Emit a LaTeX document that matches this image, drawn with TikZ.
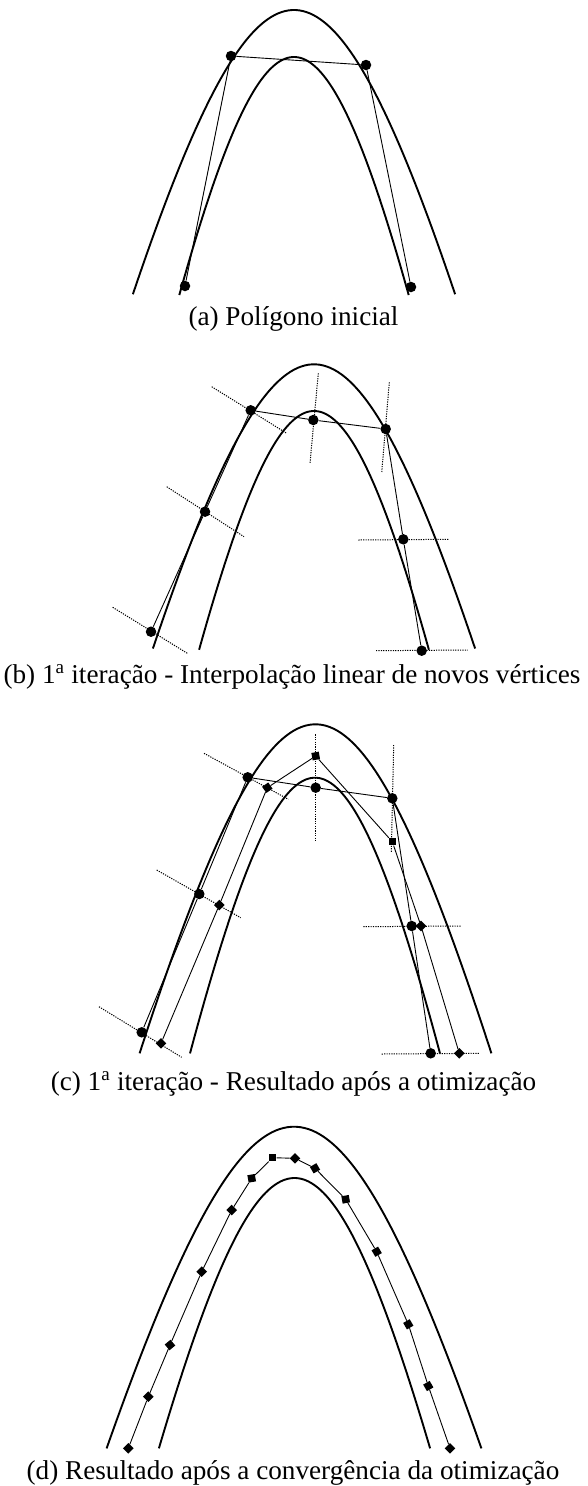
\documentclass[tikz,border=0pt]{standalone}
\usepackage{fontspec}
\setmainfont{Liberation Serif}
% arco hiperbolico: x0, y0 (vertice), a, c, meia largura
\newcommand{\arco}[5]{%
  \draw[curva] plot[domain=-#5:#5, samples=90, smooth]
    ({#1+\x}, {#2+#4*(sqrt(1+(\x/#3)*(\x/#3))-1)});}
\begin{document}
\begin{tikzpicture}[x=1pt, y=-1pt,
  vert/.style={circle, fill=black, inner sep=0pt, minimum size=10.5pt},
  quad/.style={rectangle, fill=black, inner sep=0pt, minimum size=7.5pt},
  curva/.style={line width=1.9pt},
  aresta/.style={line width=0.9pt},
  normal/.style={line width=1pt, dash pattern=on 1.2pt off 1.2pt},
  legenda/.style={anchor=base, inner sep=0pt, font=\fontsize{27.2}{30}\selectfont}]
  \useasboundingbox (0,0) rectangle (587,1486);

  % (a) Poligono inicial
  \arco{294}{10}{150}{608}{161.1}
  \arco{294}{57}{120}{621}{114.7}
  \node[vert] (a1) at (185,286) {};
  \node[vert] (a2) at (231,56) {};
  \node[vert] (a3) at (366,65) {};
  \node[vert] (a4) at (411,287) {};
  \draw[aresta] (a1) -- (a2) -- (a3) -- (a4);
  \node[legenda] (la) at (293.5,325) {(a) Polígono inicial};

  % (b) Interpolacao linear
  \arco{314}{364.3}{150}{608}{161.1}
  \arco{314}{411}{120}{621}{114.9}
  \draw[normal] (211.7,386.7) -- (286.7,433.3);
  \draw[normal] (318.3,373.3) -- (310,463.3);
  \draw[normal] (389.3,382.3) -- (381.7,472.7);
  \draw[normal] (166.7,486.7) -- (244,536.7);
  \draw[normal] (358.3,540) -- (449.3,539.3);
  \draw[normal] (112.7,607.3) -- (187.3,653.3);
  \draw[normal] (376,650.7) -- (467.7,650);
  \node[vert] (b1) at (151,631.7) {};
  \node[vert] (b2) at (205,511.7) {};
  \node[vert] (b3) at (250.7,410.3) {};
  \node[vert] (b4) at (313.3,420) {};
  \node[vert] (b5) at (385.7,429) {};
  \node[vert] (b6) at (403.3,539.3) {};
  \node[vert] (b7) at (421.7,650.7) {};
  \draw[aresta] (b1) -- (b2) -- (b3) -- (b4) -- (b5) -- (b6) -- (b7);
  \node[legenda] (lb) at (292,683) {(b) 1\textsuperscript{a} iteração - Interpolação linear de novos vértices};

  % (c) Resultado apos a otimizacao
  \arco{315.5}{724.3}{150}{608}{175.9}
  \arco{315}{777.7}{120}{621}{125}
  \draw[normal] (204,753.3) -- (288.3,799.3);
  \draw[normal] (315.7,734.3) -- (315.7,841.7);
  \draw[normal] (393.7,745) -- (391.3,852.7);
  \draw[normal] (156.7,870) -- (240.7,917.7);
  \draw[normal] (363.3,926.7) -- (461,926);
  \draw[normal] (99,1006.7) -- (181.7,1057.3);
  \draw[normal] (381.7,1054) -- (480,1053.3);
  \node[vert] (c1) at (141.7,1032.3) {};
  \node[vert] (c2) at (199.3,894) {};
  \node[vert] (c3) at (247.7,777.3) {};
  \node[vert] (c4) at (315.7,787.7) {};
  \node[vert] (c5) at (392.3,798.3) {};
  \node[vert] (c6) at (411.7,926) {};
  \node[vert] (c7) at (430.7,1053.3) {};
  \node[quad, rotate=45] (s1) at (161,1043.3) {};
  \node[quad, rotate=45] (s2) at (219.3,905) {};
  \node[quad, rotate=35] (s3) at (267.3,787.7) {};
  \node[quad, rotate=10] (s4) at (315.7,756) {};
  \node[quad] (s5) at (392.3,841.7) {};
  \node[quad, rotate=45] (s6) at (421,926) {};
  \node[quad, rotate=45] (s7) at (459.3,1053.3) {};
  \draw[aresta] (c1) -- (c2) -- (c3) -- (c4) -- (c5) -- (c6) -- (c7);
  \draw[aresta] (s1) -- (s2) -- (s3) -- (s4) -- (s5) -- (s6) -- (s7);
  \node[legenda] (lc) at (293.5,1090) {(c) 1\textsuperscript{a} iteração - Resultado após a otimização};

  % (d) Convergencia
  \arco{294}{1126.7}{162}{608}{187.4}
  \arco{294.5}{1178}{131.7}{621}{135.6}
  \node[quad, rotate=45] (d1) at (128.3,1448.3) {};
  \node[quad, rotate=45] (d2) at (148.3,1396.7) {};
  \node[quad, rotate=40] (d3) at (170,1345) {};
  \node[quad, rotate=45] (d4) at (201.7,1271.7) {};
  \node[quad, rotate=45] (d5) at (231.7,1210) {};
  \node[quad, rotate=10] (d6) at (251.7,1178.3) {};
  \node[quad] (d7) at (272.7,1157.7) {};
  \node[quad, rotate=45] (d8) at (295,1158.3) {};
  \node[quad, rotate=30] (d9) at (315,1168.3) {};
  \node[quad, rotate=10] (d10) at (345.7,1199.3) {};
  \node[quad, rotate=30] (d11) at (376.7,1251.7) {};
  \node[quad, rotate=30] (d12) at (408.3,1324.3) {};
  \node[quad, rotate=30] (d13) at (428.3,1386) {};
  \node[quad, rotate=45] (d14) at (450,1448.3) {};
  \draw[aresta] (d1) -- (d2) -- (d3) -- (d4) -- (d5) -- (d6) -- (d7) -- (d8)
    -- (d9) -- (d10) -- (d11) -- (d12) -- (d13) -- (d14);
  \node[legenda] (ld) at (293,1479) {(d) Resultado após a convergência da otimização};
\end{tikzpicture}
\end{document}
